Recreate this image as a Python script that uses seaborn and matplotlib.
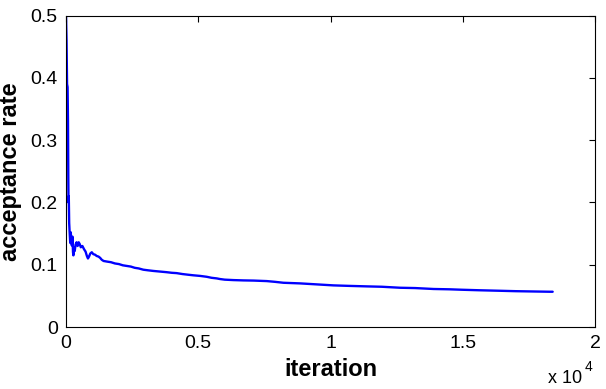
import matplotlib
matplotlib.use("Agg")
import matplotlib.pyplot as plt
import seaborn as sns
import pandas as pd

iterations = [0, 20, 40, 60, 75, 87, 95, 105, 120, 140, 160, 180, 200, 220, 245, 265, 280, 300,
              330, 360, 400, 440, 480, 520, 560, 620, 680, 740, 790, 830, 870, 920, 975, 1030,
              1100, 1160, 1230, 1290, 1350, 1420, 1550, 1700, 1850, 2000, 2150, 2300, 2450,
              2600, 2750, 2920, 3100, 3300, 3550, 3800, 4000, 4180, 4400, 4600, 4810, 5070,
              5320, 5500, 5700, 5820, 6000, 6330, 6700, 7100, 7590, 7900, 8220, 8850, 9480,
              10110, 10700, 11370, 11940, 12630, 13200, 13900, 14500, 14970, 15600, 16370,
              17000, 17700, 18280, 18400]
acceptance = [0.50, 0.46, 0.39, 0.385, 0.33, 0.24, 0.20, 0.21, 0.167, 0.15, 0.135, 0.152, 0.14,
              0.131, 0.145, 0.12, 0.115, 0.128, 0.122, 0.132, 0.136, 0.130, 0.136, 0.133, 0.128,
              0.130, 0.125, 0.121, 0.114, 0.110, 0.113, 0.118, 0.120, 0.117, 0.116, 0.114, 0.113,
              0.111, 0.108, 0.106, 0.105, 0.104, 0.102, 0.101, 0.099, 0.098, 0.097, 0.095, 0.094,
              0.092, 0.091, 0.090, 0.089, 0.088, 0.087, 0.0865, 0.085, 0.084, 0.083, 0.082,
              0.0806, 0.079, 0.078, 0.077, 0.076, 0.0753, 0.0748, 0.0745, 0.0737, 0.0725, 0.071,
              0.070, 0.0684, 0.0668, 0.066, 0.0652, 0.0646, 0.063, 0.0625, 0.061, 0.0605, 0.0598,
              0.059, 0.0582, 0.0575, 0.057, 0.0566, 0.0566]

x_ticks = [0, 5000, 10000, 15000, 20000]
x_tick_labels = ["0", "0.5", "1", "1.5", "2"]
y_ticks = [0, 0.1, 0.2, 0.3, 0.4, 0.5]
y_tick_labels = ["0", "0.1", "0.2", "0.3", "0.4", "0.5"]

sns.set_style("white")
plt.rcParams["font.family"] = ["Liberation Sans", "DejaVu Sans"]
plt.rcParams["text.color"] = "black"
plt.rcParams["axes.labelcolor"] = "black"

df = pd.DataFrame({"iteration": iterations, "acceptance rate": acceptance})

fig = plt.figure(figsize=(6.06, 3.89), dpi=100)
ax = fig.add_axes([66 / 606, (389 - 327) / 389, (595 - 66) / 606, (327 - 15.5) / 389])
sns.lineplot(data=df, x="iteration", y="acceptance rate", ax=ax, color="#0000ff",
             linewidth=1.7, estimator=None, sort=False)

ax.set_xlim(0, 20000)
ax.set_ylim(0, 0.5)
ax.set_xticks(x_ticks)
ax.set_xticklabels(x_tick_labels)
ax.set_yticks(y_ticks)
ax.set_yticklabels(y_tick_labels)
ax.tick_params(direction="in", length=4, width=0.8, top=True, right=True,
               labelsize=14, colors="black", labelcolor="black", pad=6)
for s in ax.spines.values():
    s.set_visible(True)
    s.set_color("black")
    s.set_linewidth(0.8)

ax.set_xlabel("iteration", fontsize=17, fontweight="bold", labelpad=4, color="black")
ax.set_ylabel("acceptance rate", fontsize=17, fontweight="bold", labelpad=6, color="black")

fig.text(548 / 606, 1 - 383 / 389, "x 10", fontsize=13, ha="left", va="baseline", color="black")
fig.text(585 / 606, 1 - 371 / 389, "4", fontsize=10, ha="left", va="baseline", color="black")

fig.savefig("out.png", dpi=100, facecolor="white")
